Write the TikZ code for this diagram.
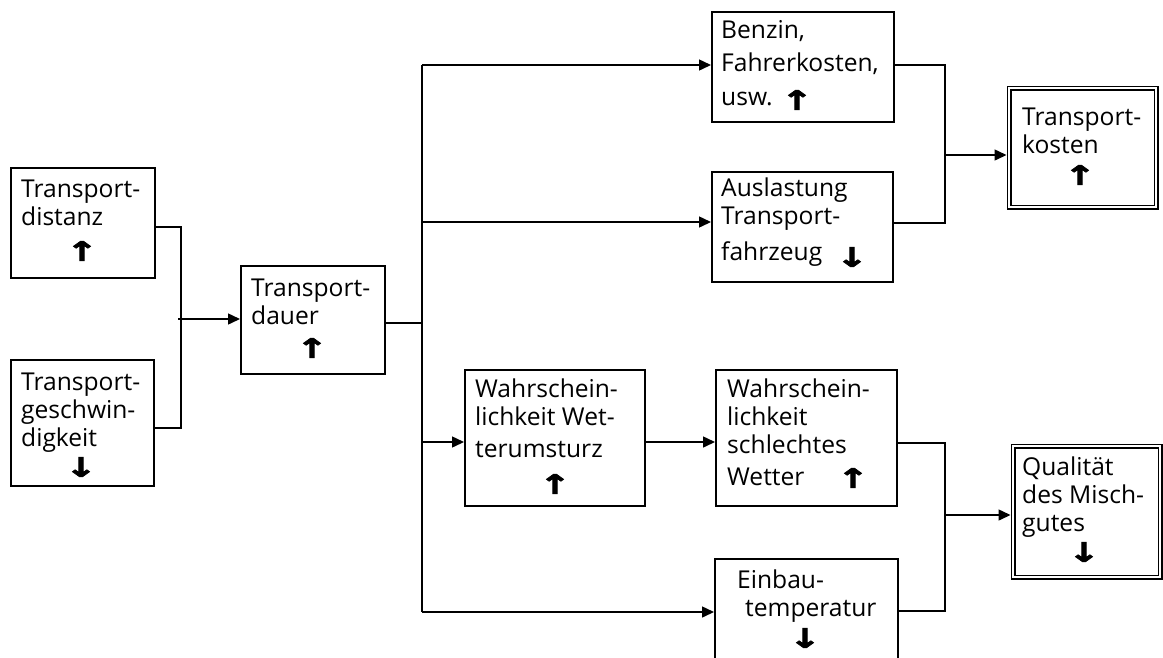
\documentclass[tikz,border=0pt]{standalone}
\usepackage{fontspec}
\usepackage{graphicx}
\setmainfont{Open Sans}
\newfontfamily\symf{DejaVu Sans Bold}[FakeBold=2.5]
\usetikzlibrary{arrows.meta}
\newcommand\st{\rule{0pt}{20pt}}
\newcommand\wide[1]{\scalebox{1.4}[1]{#1}}
\tikzset{
  box/.style={draw, line width=1.5pt, inner sep=0pt, anchor=north west},
  dbox/.style={draw, double, double distance=2.5pt, line width=1.3pt, inner sep=0pt, anchor=north west, outer sep=2.55pt},
  txt/.style={anchor=north west, inner sep=0pt, align=left, font=\fontsize{24.6}{28.3}\selectfont},
  sym/.style={inner sep=0pt, font=\symf\fontsize{27}{27}\selectfont},
  ln/.style={line width=1.5pt},
  arr/.style={line width=1.5pt, -{Triangle[length=12pt,width=11pt]}}
}
\begin{document}
\begin{tikzpicture}[x=1pt,y=-1pt]
\useasboundingbox (0,0) rectangle (1163,657);
\fill[white] (0,0) rectangle (1163,657);
% boxes
\node[box, minimum width=144, minimum height=110] (bDist) at (10,167) {};
\node[box, minimum width=143, minimum height=126] (bGesch) at (10,359) {};
\node[box, minimum width=144, minimum height=108] (bDauer) at (240,265) {};
\node[box, minimum width=182, minimum height=110] (bBenzin) at (711,11) {};
\node[box, minimum width=181, minimum height=110] (bAusl) at (711,171) {};
\node[box, minimum width=180, minimum height=136] (bWU) at (464,369) {};
\node[box, minimum width=181, minimum height=136] (bSW) at (715,369) {};
\node[box, minimum width=183, minimum height=125] (bEinbau) at (714,558) {};
\node[dbox, minimum width=147, minimum height=119] (bKosten) at (1006.5,85.5) {};
\node[dbox, minimum width=147, minimum height=131] (bQual) at (1010.5,443.5) {};
% texts
\node[txt] (tDist) at (21,177) {\st Transport-\\distanz};
\node[txt] (tGesch) at (21,370) {\st Transport-\\geschwin-\\digkeit};
\node[txt] (tDauer) at (251,276) {\st Transport-\\dauer};
\node[txt] (tBenzin) at (721,18) {\st Benzin,\\[5.2pt]Fahrerkosten,\\[5.2pt]usw.};
\node[txt] (tAusl) at (721,176) {\st Auslastung\\Transport-\\[8pt]fahrzeug};
\node[txt] (tWU) at (475,377) {\st Wahrschein-\\lichkeit Wet-\\[3.5pt]terumsturz};
\node[txt] (tSW) at (727,377) {\st Wahrschein-\\lichkeit\\schlechtes\\[3pt]Wetter};
\node[txt] (tEinbau) at (737,568) {\st Einbau-\\\hspace*{8pt}temperatur};
\node[txt] (tKosten) at (1022,105) {\st Transport-\\kosten};
\node[txt] (tQual) at (1022,455) {\st Qualität\\des Misch-\\gutes};
% arrows
\node[sym] (aDist) at (82,251) {\wide{↑}};
\node[sym] (aGesch) at (81,467) {\wide{↓}};
\node[sym] (aDauer) at (312,348) {\wide{↑}};
\node[sym] (aBenzin) at (797,100) {\wide{↑}};
\node[sym] (aAusl) at (852,257) {\wide{↓}};
\node[sym] (aWU) at (555,484) {\wide{↑}};
\node[sym] (aSW) at (853,478) {\wide{↑}};
\node[sym] (aEinbau) at (805,638) {\wide{↓}};
\node[sym] (aKosten) at (1080,175) {\wide{↑}};
\node[sym] (aQual) at (1084,552) {\wide{↓}};
% connectors
\coordinate (jL) at (181,319);
\coordinate (tr) at (422,323);
\coordinate (trTop) at (422,65);
\coordinate (trBot) at (422,612);
\coordinate (jK) at (945,155);
\coordinate (jQ) at (945,515);
\draw[ln] (bDist.east |- 0,227) -| (jL) |- (bGesch.east |- 0,428);
\draw[arr] ([xshift=-3pt]jL) -- (bDauer.west |- jL);
\draw[ln] (bDauer.east |- tr) -- (tr);
\draw[ln] (trTop) -- (trBot);
\draw[arr] (trTop) -- (bBenzin.west |- trTop);
\draw[arr] (422,222) -- (bAusl.west |- 0,222);
\draw[arr] (422,442) -- (bWU.west |- 0,442);
\draw[arr] (trBot) -- (bEinbau.west |- trBot);
\draw[arr] (bWU.east |- 0,442) -- (bSW.west |- 0,442);
\draw[ln] (bBenzin.east |- 0,65) -| (jK) |- (bAusl.east |- 0,223);
\draw[arr] (jK) -- (bKosten.west |- jK);
\draw[ln] (bSW.east |- 0,443) -| (jQ) |- (bEinbau.east |- 0,611);
\draw[arr] (jQ) -- (bQual.west |- jQ);
\end{tikzpicture}
\end{document}
